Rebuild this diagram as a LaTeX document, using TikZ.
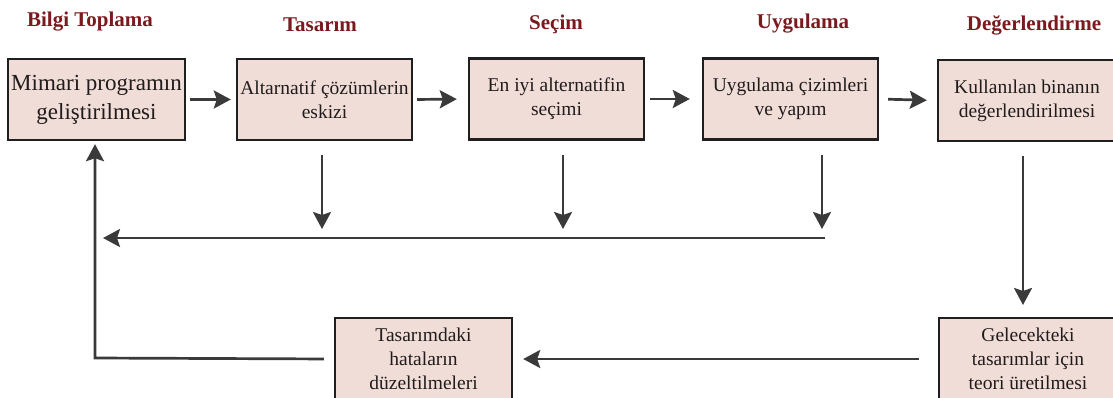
\documentclass[tikz,border=0pt]{standalone}
\usepackage{fontspec}
\setmainfont{Liberation Serif}
\usetikzlibrary{arrows.meta}
\definecolor{boxfill}{RGB}{241,221,215}
\definecolor{titlered}{RGB}{122,26,30}
\definecolor{linegray}{RGB}{58,58,58}
\definecolor{textgray}{RGB}{32,28,28}
\begin{document}
\begin{tikzpicture}[x=1pt,y=-1pt,
  stagebox/.style={draw=black!88, line width=2.4pt, fill=boxfill, inner sep=0pt,
    align=center, text=textgray, font=\fontsize{19.5}{24}\selectfont},
  stagetitle/.style={text=titlered, font=\bfseries\fontsize{21}{24}\selectfont, inner sep=0pt},
  arr/.style={draw=linegray, line width=2.7pt,
    -{Stealth[length=17pt,width=18pt,inset=3pt]}}
]
\useasboundingbox (0,0) rectangle (1113,397);
\clip (0,0) rectangle (1113,397);
% titles
\node[stagetitle] (t1) at (90,22) {Bilgi Toplama};
\node[stagetitle] (t2) at (320,25) {Tasarım};
\node[stagetitle] (t3) at (556,24) {Seçim};
\node[stagetitle] (t4) at (803,24) {Uygulama};
\node[stagetitle] (t5) at (1034,25) {Değerlendirme};
% top boxes
\node[stagebox, minimum width=177pt, minimum height=81pt,
  font=\fontsize{23}{29}\selectfont] (b1) at (96.5,99.5) {Mimari programın\\geliştirilmesi};
\node[stagebox, minimum width=175pt, minimum height=81pt] (b2) at (324.5,99.5) {Altarnatif çözümlerin\\eskizi};
\node[stagebox, minimum width=175pt, minimum height=81pt] (b3) at (556.5,99) {En iyi alternatifin\\seçimi};
\node[stagebox, minimum width=175pt, minimum height=81pt] (b4) at (790.5,99) {Uygulama çizimleri\\ve yapım};
\node[stagebox, minimum width=178pt, minimum height=81pt] (b5) at (1027,100.5) {Kullanılan binanın\\değerlendirilmesi};
% bottom boxes
\node[stagebox, minimum width=177pt, minimum height=82pt] (b6) at (423.5,359) {Tasarımdaki\\hataların\\düzeltilmeleri};
\node[stagebox, minimum width=178pt, minimum height=82pt] (b7) at (1028,359) {Gelecekteki\\tasarımlar için\\teori üretilmesi};
% coordinates
\coordinate (d2) at (322,229);
\coordinate (d3) at (563,229);
\coordinate (d4) at (822,229);
\coordinate (busR) at (825,238);
\coordinate (busL) at (103,238);
\coordinate (c1) at (95,358);
\coordinate (d5) at (1023,318);
% horizontal arrows between top boxes
\draw[arr, shorten <=4pt, shorten >=5pt] (b1.east) -- (b2.west);
\draw[arr, shorten <=4pt, shorten >=11pt] (b2.east) -- (b3.west);
\draw[arr, shorten <=5pt, shorten >=12pt] (b3.east) -- (b4.west);
\draw[arr, shorten <=9pt, shorten >=10pt] (b4.east) -- (b5.west);
% down arrows to bus
\draw[arr, shorten <=14pt] (b2.south -| d2) -- (d2);
\draw[arr, shorten <=14pt] (b3.south -| d3) -- (d3);
\draw[arr, shorten <=14pt] (b4.south -| d4) -- (d4);
% bus back to the left
\draw[arr] (busR) -- (busL);
% feedback from bottom-left box
\draw[arr, shorten <=10pt, shorten >=3pt] (b6.west) -- (c1) -- (c1 |- b1.south);
% evaluation down to theory box
\draw[arr, shorten <=14pt, shorten >=13pt] (b5.south -| d5) -- (d5);
% theory box to corrections box
\draw[arr, shorten <=19pt, shorten >=10pt] (b7.west) -- (b6.east);
\end{tikzpicture}
\end{document}
